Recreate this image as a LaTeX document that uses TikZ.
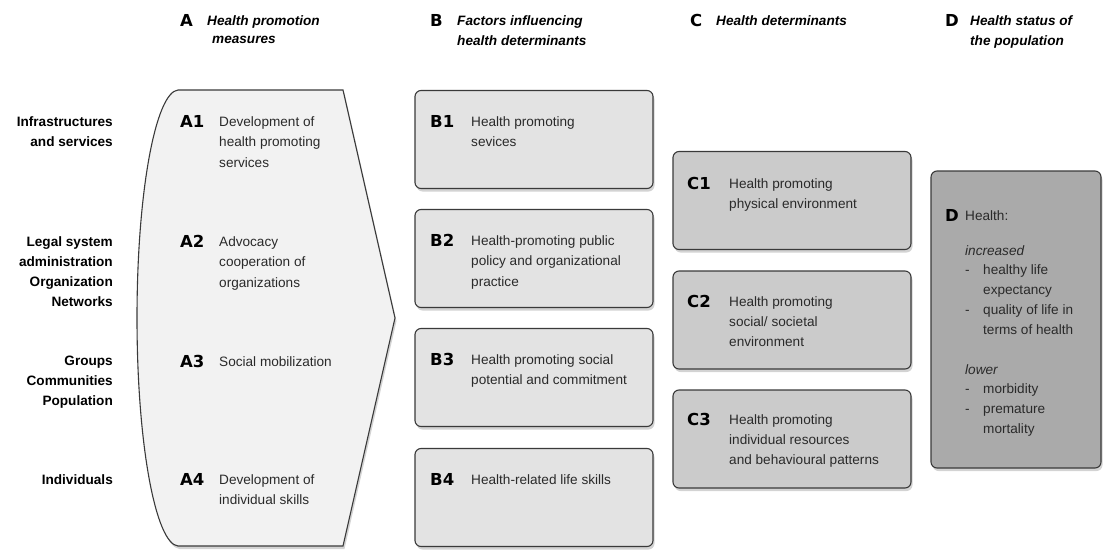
\documentclass[tikz,border=0pt]{standalone}
\usepackage{fontspec}
\setmainfont{Liberation Sans}
\newfontfamily\heavy{DejaVu Sans}
\usetikzlibrary{shadows}
\definecolor{afill}{HTML}{F2F2F2}
\definecolor{bfill}{HTML}{E3E3E3}
\definecolor{cfill}{HTML}{CBCBCB}
\definecolor{dfill}{HTML}{AAAAAA}
\definecolor{bord}{HTML}{3A3A3A}
\definecolor{tcol}{HTML}{2A2A2A}
\begin{document}
\begin{tikzpicture}[x=1pt,y=-1pt,
  shad/.style={drop shadow={shadow xshift=1.5pt,shadow yshift=-3pt,opacity=0.35}},
  box/.style={draw=bord,line width=1.1pt,rounded corners=6pt,shad,minimum width=238pt,minimum height=98pt,inner sep=0pt},
  txt/.style={anchor=north west,inner sep=0pt,align=left,text=tcol,font=\fontsize{13.6}{20.8}\selectfont},
  lbl/.style={anchor=north west,inner sep=0pt,font=\heavy\bfseries\fontsize{16.5}{18}\selectfont},
  side/.style={anchor=north east,inner sep=0pt,align=right,font=\bfseries\fontsize{13.6}{20}\selectfont},
  head/.style={anchor=north west,inner sep=0pt,align=left,font=\bfseries\itshape\fontsize{13.6}{20.8}\selectfont},
]
\useasboundingbox (0,0) rectangle (1103,549);

% headers
\node[lbl] (hA) at (180,14) {A};
\node[head] (hAt) at (207,15) {Health promotion};
\node[head] (hAt2) at (212,36) {measures};
\node[lbl] (hB) at (430,14) {B};
\node[head] (hBt) at (457,15) {Factors influencing\\health determinants};
\node[lbl] (hC) at (690,14) {C};
\node[head] (hCt) at (716,15) {Health determinants};
\node[lbl] (hD) at (945,14) {D};
\node[head] (hDt) at (970,15) {Health status of\\the population};

% side labels
\node[side] (s1) at (113,116) {Infrastructures\\and services};
\node[side] (s2) at (113,236) {Legal system\\administration\\Organization\\Networks};
\node[side] (s3) at (113,356) {Groups\\Communities\\Population};
\node[side] (s4) at (113,474) {Individuals};

% A shape
\draw[draw=bord,line width=1.1pt,fill=afill,shad]
  (343,90) -- (178,90) .. controls (156,92) and (137,190) .. (137,318)
  .. controls (137,446) and (156,544) .. (178,546) -- (343,546) -- (395,318) -- cycle;

\node[lbl] (A1) at (180,115) {A1};
\node[txt] (A1t) at (219,116) {Development of\\health promoting\\services};
\node[lbl] (A2) at (180,235) {A2};
\node[txt] (A2t) at (219,236) {Advocacy\\cooperation of\\organizations};
\node[lbl] (A3) at (180,355) {A3};
\node[txt] (A3t) at (219,356) {Social mobilization};
\node[lbl] (A4) at (180,473) {A4};
\node[txt] (A4t) at (219,474) {Development of\\individual skills};

% B boxes
\node[box,fill=bfill] (B1box) at (534,139.5) {};
\node[box,fill=bfill] (B2box) at (534,258.5) {};
\node[box,fill=bfill] (B3box) at (534,377.5) {};
\node[box,fill=bfill] (B4box) at (534,497.5) {};
\node[lbl] (B1) at (430,115) {B1};
\node[txt] (B1t) at (471,116) {Health promoting\\sevices};
\node[lbl] (B2) at (430,234) {B2};
\node[txt] (B2t) at (471,235) {Health-promoting public\\policy and organizational\\practice};
\node[lbl] (B3) at (430,353) {B3};
\node[txt] (B3t) at (471,354) {Health promoting social\\potential and commitment};
\node[lbl] (B4) at (430,473) {B4};
\node[txt] (B4t) at (471,474) {Health-related life skills};

% C boxes
\node[box,fill=cfill] (C1box) at (792,200.5) {};
\node[box,fill=cfill] (C2box) at (792,320) {};
\node[box,fill=cfill] (C3box) at (792,439) {};
\node[lbl] (C1) at (687,177) {C1};
\node[txt] (C1t) at (729,178) {Health promoting\\physical environment};
\node[lbl] (C2) at (687,295) {C2};
\node[txt,font=\fontsize{13.6}{20.2}\selectfont] (C2t) at (729,296) {Health promoting\\social/ societal\\environment};
\node[lbl] (C3) at (687,413) {C3};
\node[txt,font=\fontsize{13.6}{20.2}\selectfont] (C3t) at (729,414) {Health promoting\\individual resources\\and behavioural patterns};

% D box
\node[box,fill=dfill,minimum width=170pt,minimum height=297pt] (Dbox) at (1016,319.5) {};
\node[lbl] (D) at (945,209) {D};
\node[txt] (Dt) at (965,210) {Health:};
\node[txt,font=\fontsize{13.6}{19.8}\selectfont] (Dlist) at (965,245) {\textit{increased}\\
\makebox[18pt][l]{-}healthy life\\
\hspace*{18pt}expectancy\\
\makebox[18pt][l]{-}quality of life in\\
\hspace*{18pt}terms of health\\[20pt]
\textit{lower}\\
\makebox[18pt][l]{-}morbidity\\
\makebox[18pt][l]{-}premature\\
\hspace*{18pt}mortality};
\end{tikzpicture}
\end{document}
